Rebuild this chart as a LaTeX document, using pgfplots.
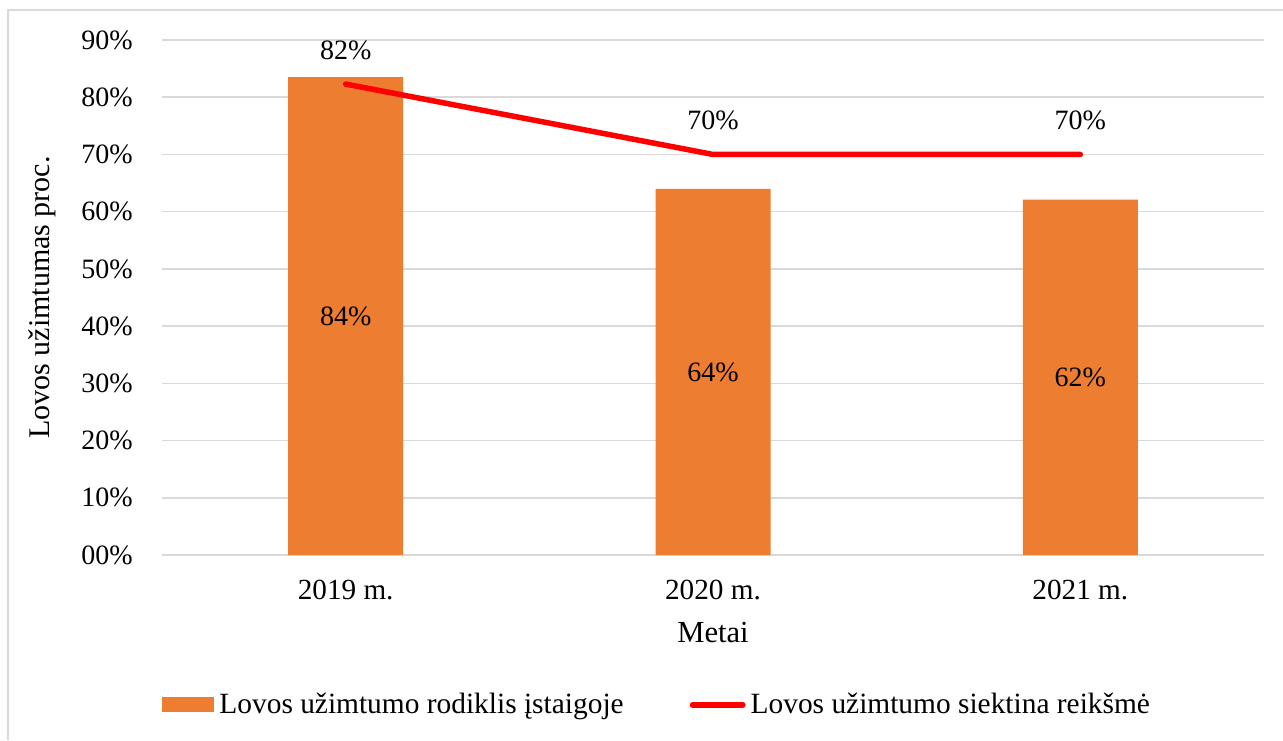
\documentclass[border=0pt]{standalone}
\usepackage{fontspec}
\setmainfont{Liberation Serif}
\usepackage{pgfplots}
\pgfplotsset{compat=1.18}
\definecolor{barorange}{HTML}{ED7D31}
\definecolor{gridgray}{HTML}{D9D9D9}
\begin{document}
\begin{tikzpicture}
\path[use as bounding box] (0pt,0pt) rectangle (641.5pt,370pt);
\draw[gridgray, line width=0.75pt] (4pt,0pt) -- (4pt,365pt) -- (641.5pt,365pt);
\begin{axis}[
  at={(81pt,92.5pt)}, anchor=south west,
  scale only axis, width=551pt, height=257.5pt,
  xmin=-0.5, xmax=2.5, ymin=0, ymax=90,
  clip=false,
  axis line style={draw=none},
  major tick length=0pt,
  ymajorgrids, grid style={gridgray, line width=0.8pt},
  ytick={0,10,20,30,40,50,60,70,80,90},
  yticklabels={00\%,10\%,20\%,30\%,40\%,50\%,60\%,70\%,80\%,90\%},
  xtick={0,1,2},
  xticklabels={2019 m.,2020 m.,2021 m.},
  font=\fontsize{14pt}{16pt}\selectfont,
  /pgf/number format/assume math mode=true,
  yticklabel style={anchor=east, inner sep=0pt, xshift=-14.5pt},
  xticklabel style={anchor=base, inner sep=0pt, yshift=-22pt, font=\fontsize{14.6pt}{16pt}\selectfont},
  xlabel={Metai},
  xlabel style={at={(axis description cs:0.5,0)}, anchor=base, inner sep=0pt, yshift=-43.5pt, font=\fontsize{15.3pt}{17pt}\selectfont},
  ylabel={Lovos užimtumas proc.},
  ylabel style={at={(axis description cs:-0.1025,0.5)}, anchor=base, inner sep=0pt, font=\fontsize{15pt}{17pt}\selectfont},
  legend columns=2,
  legend style={at={(-0.0054,-0.291)}, anchor=west, draw=none, fill=none,
    font=\fontsize{14.7pt}{17pt}\selectfont,
    nodes={inner sep=0pt},
    /tikz/every odd column/.append style={column sep=2.5pt},
    /tikz/every even column/.append style={column sep=33pt}},
]
\addplot[ybar, bar width=57.5pt, fill=barorange, draw=none,
  legend image code/.code={\fill[barorange] (0pt,-3.75pt) rectangle (26pt,3.75pt);}]
  coordinates {(0,83.5) (1,64) (2,62.1)};
\addlegendentry{Lovos užimtumo rodiklis įstaigoje}
\addplot[red, line width=2.75pt, line cap=round, mark=none,
  nodes near coords, point meta=explicit symbolic,
  every node near coord/.style={anchor=base, yshift=12.5pt, text=black, inner sep=0pt},
  legend image code/.code={\draw[red, line width=3pt, line cap=round] (1.5pt,0pt) -- (26.5pt,0pt);}]
  coordinates {(0,82.3) [82\%] (1,70) [70\%] (2,70) [70\%]};
\addlegendentry{Lovos užimtumo siektina reikšmė}
\addplot[draw=none, mark=none, forget plot,
  nodes near coords, point meta=explicit symbolic,
  every node near coord/.style={anchor=center, text=black, inner sep=0pt}]
  coordinates {(0,41.75) [84\%] (1,32) [64\%] (2,31.05) [62\%]};
\end{axis}
\end{tikzpicture}
\end{document}
